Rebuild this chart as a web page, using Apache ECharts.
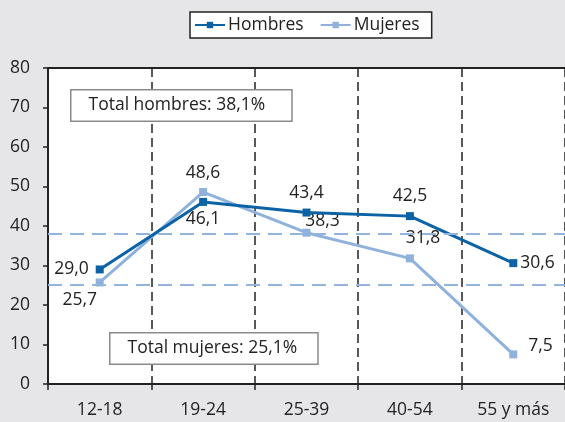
<!DOCTYPE html>
<html><head><meta charset="utf-8">
<script src="https://cdn.jsdelivr.net/npm/echarts@6/dist/echarts.min.js"></script>
<style>html,body{margin:0;padding:0;background:#e6e6e8;}#c{width:565px;height:422px;}</style>
</head><body><div id="c"></div>
<script>
var categories = ['12-18','19-24','25-39','40-54','55 y más'];
var hombres = [29.0, 46.1, 43.4, 42.5, 30.6];
var mujeres = [25.7, 48.6, 38.3, 31.8, 7.5];
var totalHombres = 38.1;
var totalMujeres = 25.1;
var yTicks = [0,10,20,30,40,50,60,70,80];

var FONT = 'Open Sans';
var FS = 17.5;
function fmt(v){ return v.toFixed(1).replace('.', ','); }

var hLabelPos = [
  {position:'left', distance:7},
  {position:'bottom', distance:4},
  {position:'top', distance:7},
  {position:'top', distance:7},
  {position:'right', distance:3}
];
var mLabelPos = [
  {position:'bottom', distance:5, offset:[-20,0]},
  {position:'top', distance:6},
  {position:'top', distance:-1, offset:[16,0]},
  {position:'top', distance:7, offset:[13,0]},
  {position:'right', distance:9, offset:[2,-8]}
];
function build(vals, pos){
  return vals.map(function(v,i){
    return {value:v, label:Object.assign({show:true, formatter:function(d){return fmt(d.value);}, color:'#222', fontSize:FS, fontFamily:FONT}, pos[i])};
  });
}

var chart = echarts.init(document.getElementById('c'), null, {renderer:'canvas'});
chart.setOption({
  backgroundColor:'#e6e6e8',
  animation:false,
  textStyle:{fontFamily:FONT},
  legend:{
    top:12, left:190, itemWidth:30, itemHeight:8, itemGap:16,
    backgroundColor:'#fff', borderColor:'#222', borderWidth:1.5,
    padding:[4,12,4,4],
    textStyle:{fontSize:FS, color:'#222', fontFamily:FONT, padding:[0,0,0,-2]},
    data:['Hombres','Mujeres']
  },
  grid:{left:48, right:0, top:68, bottom:38, show:true, backgroundColor:'#fff', borderWidth:0},
  xAxis:[{
    type:'category', data:categories, boundaryGap:true,
    axisLine:{lineStyle:{color:'#222', width:2}},
    axisTick:{show:true, length:6, lineStyle:{color:'#222', width:1.5}},
    axisLabel:{color:'#222', fontSize:FS, margin:17, fontFamily:FONT},
    splitLine:{show:true, lineStyle:{color:'#222', width:1.5, type:[9,5]}}
  },{
    type:'category', data:categories, position:'top', boundaryGap:true,
    axisLine:{show:true, lineStyle:{color:'#222', width:2}},
    axisTick:{show:false}, axisLabel:{show:false}, splitLine:{show:false}
  }],
  yAxis:{
    type:'value', min:0, max:80, interval:10,
    axisLine:{show:true, lineStyle:{color:'#222', width:2}},
    axisTick:{show:true, length:5, lineStyle:{color:'#222', width:1.5}},
    axisLabel:{color:'#222', fontSize:FS, margin:18, fontFamily:FONT,
      formatter:function(v){ return yTicks.indexOf(v)>=0 ? String(v) : ''; }},
    splitLine:{show:false}
  },
  series:[
    {
      name:'Hombres', type:'line', data:build(hombres, hLabelPos),
      symbol:'rect', symbolSize:8, z:4,
      lineStyle:{color:'#0b63a5', width:3},
      itemStyle:{color:'#0b63a5'},
      markLine:{
        silent:true, symbol:'none', label:{show:false},
        lineStyle:{color:'#93b4dc', width:2, type:[14,8]},
        data:[{yAxis:totalHombres},{yAxis:totalMujeres}]
      }
    },
    {
      name:'Mujeres', type:'line', data:build(mujeres, mLabelPos),
      symbol:'rect', symbolSize:8, z:3,
      lineStyle:{color:'#8fb2dc', width:3},
      itemStyle:{color:'#8fb2dc'}
    }
  ],
  graphic:[
    {type:'text', left:70, top:89, z:10,
      style:{text:'Total hombres: ' + fmt(totalHombres) + '%', fill:'#222', fontSize:FS, fontFamily:FONT,
        backgroundColor:'#fff', borderColor:'#8a8a8a', borderWidth:1.5, padding:[6,26,6,17]}},
    {type:'text', left:109, top:332, z:10,
      style:{text:'Total mujeres: ' + fmt(totalMujeres) + '%', fill:'#222', fontSize:FS, fontFamily:FONT,
        backgroundColor:'#fff', borderColor:'#8a8a8a', borderWidth:1.5, padding:[6,20,6,17]}}
  ]
});
</script></body></html>
